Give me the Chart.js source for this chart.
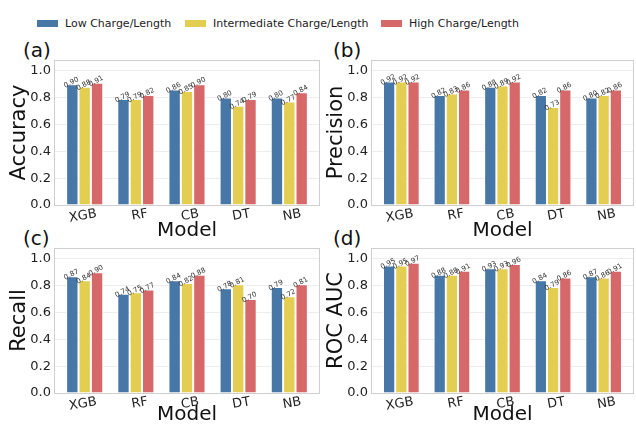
<!DOCTYPE html>
<html>
<head>
<meta charset="utf-8">
<script src="https://cdn.jsdelivr.net/npm/chart.js@4/dist/chart.umd.min.js"></script>
<style>
  body { margin: 0; background: #fff; font-family: 'DejaVu Sans', sans-serif; }
  #page { position: relative; width: 636px; height: 427px; overflow: hidden; }
  canvas { position: absolute; }
  .tag { position: absolute; font-size: 20px; line-height: 20px; color: #111; }
  .sw { position: absolute; width: 21px; height: 7px; top: 20px; }
  .lt { position: absolute; top: 16px; font-size: 11px; line-height: 15px; color: #222; white-space: nowrap; }
</style>
</head>
<body>
<div id="page">
  <div id="legend"></div>
  <div class="tag" style="left:23px;top:40px">(a)</div>
  <div class="tag" style="left:333px;top:40px">(b)</div>
  <div class="tag" style="left:23px;top:228px">(c)</div>
  <div class="tag" style="left:333px;top:228px">(d)</div>
  <canvas id="cA" width="322" height="209" style="left:0;top:34px"></canvas>
  <canvas id="cB" width="319" height="209" style="left:317px;top:34px"></canvas>
  <canvas id="cC" width="322" height="205" style="left:0;top:222px"></canvas>
  <canvas id="cD" width="319" height="205" style="left:317px;top:222px"></canvas>
</div>
<script>
const models = ['XGB', 'RF', 'CB', 'DT', 'NB']
const groups = ['Low Charge/Length', 'Intermediate Charge/Length', 'High Charge/Length']
const colors = ['rgb(70,119,166)', 'rgb(228,206,82)', 'rgb(214,104,106)']

const accuracyLow = [0.90, 0.79, 0.86, 0.80, 0.80]
const accuracyMid = [0.88, 0.79, 0.85, 0.74, 0.77]
const accuracyHigh = [0.91, 0.82, 0.90, 0.79, 0.84]

const precisionLow = [0.92, 0.82, 0.88, 0.82, 0.80]
const precisionMid = [0.92, 0.83, 0.89, 0.73, 0.82]
const precisionHigh = [0.92, 0.86, 0.92, 0.86, 0.86]

const recallLow = [0.87, 0.74, 0.84, 0.78, 0.79]
const recallMid = [0.84, 0.75, 0.82, 0.81, 0.72]
const recallHigh = [0.90, 0.77, 0.88, 0.70, 0.81]

const rocLow = [0.95, 0.88, 0.93, 0.84, 0.87]
const rocMid = [0.95, 0.88, 0.93, 0.79, 0.86]
const rocHigh = [0.97, 0.91, 0.96, 0.86, 0.91]

const yTicks = [0, 0.2, 0.4, 0.6, 0.8, 1.0]

Chart.defaults.font.family = "'DejaVu Sans', sans-serif"

// shared legend, built from the series names and colours
const legendLeft = [[37, 65], [185, 213], [381, 409]]
const legend = document.getElementById('legend')
groups.forEach((g, i) => {
  const sw = document.createElement('div')
  sw.className = 'sw'
  sw.style.left = legendLeft[i][0] + 'px'
  sw.style.background = colors[i]
  legend.appendChild(sw)
  const t = document.createElement('div')
  t.className = 'lt'
  t.style.left = legendLeft[i][1] + 'px'
  t.textContent = g
  legend.appendChild(t)
})

// box around the plot area
const framePlugin = {
  id: 'frame',
  beforeDatasetsDraw(chart) {
    const a = chart.chartArea
    const ctx = chart.ctx
    ctx.save()
    ctx.strokeStyle = '#cfcfcf'
    ctx.lineWidth = 1
    ctx.strokeRect(a.left + 0.5, a.top + 0.5, a.right - a.left - 1, a.bottom - a.top)
    ctx.restore()
  }
}

// small rotated value labels on top of each bar
const valuePlugin = {
  id: 'values',
  afterDatasetsDraw(chart) {
    const ctx = chart.ctx
    ctx.save()
    ctx.font = "7px 'DejaVu Sans'"
    ctx.fillStyle = '#333'
    ctx.textAlign = 'center'
    ctx.textBaseline = 'middle'
    chart.data.datasets.forEach((ds, di) => {
      chart.getDatasetMeta(di).data.forEach((bar, i) => {
        ctx.save()
        ctx.translate(bar.x - 1, bar.y - 1.5)
        ctx.rotate(-28 * Math.PI / 180)
        ctx.fillText(ds.data[i].toFixed(2), 0, 0)
        ctx.restore()
      })
    })
    ctx.restore()
  }
}

function panel(id, yLabel, low, mid, high, xAxisHeight) {
  const series = [low, mid, high]
  return new Chart(document.getElementById(id), {
    type: 'bar',
    data: {
      labels: models.map((m, i) => i),
      datasets: series.map((vals, i) => ({
        label: groups[i],
        data: vals,
        backgroundColor: colors[i],
        borderColor: 'rgba(255,255,255,0.9)',
        borderWidth: 1,
        barPercentage: 1.0,
        categoryPercentage: 0.725
      }))
    },
    options: {
      responsive: false,
      animation: false,
      layout: { padding: { top: 26, right: 2, left: 0, bottom: 0 } },
      plugins: {
        legend: { display: false },
        tooltip: { enabled: false }
      },
      scales: {
        x: {
          type: 'linear',
          offset: false,
          min: -0.6,
          max: 4.6,
          grid: { display: false, drawTicks: false },
          border: { display: false },
          afterBuildTicks: s => { s.ticks = models.map((m, i) => ({ value: i })) },
          afterFit: s => { s.height = xAxisHeight },
          ticks: {
            minRotation: 10,
            maxRotation: 10,
            labelOffset: 12,
            padding: 1,
            color: '#222',
            font: { size: 13 },
            callback: v => models[v]
          },
          title: {
            display: true,
            text: 'Model',
            color: '#111',
            font: { size: 20 },
            padding: { top: 0, bottom: 0 }
          }
        },
        y: {
          min: 0,
          max: 1.08,
          grid: { color: 'rgba(0,0,0,0.07)', drawTicks: false },
          border: { display: false },
          afterBuildTicks: s => { s.ticks = yTicks.map(v => ({ value: v })) },
          afterFit: s => { s.width = 54 },
          ticks: {
            padding: 3,
            color: '#222',
            font: { size: 13 },
            callback: v => v.toFixed(1)
          },
          title: {
            display: true,
            text: yLabel,
            color: '#111',
            font: { size: 21 },
            padding: { top: 7, bottom: 0 }
          }
        }
      }
    },
    plugins: [framePlugin, valuePlugin]
  })
}

panel('cA', 'Accuracy', accuracyLow, accuracyMid, accuracyHigh, 38)
panel('cB', 'Precision', precisionLow, precisionMid, precisionHigh, 38)
panel('cC', 'Recall', recallLow, recallMid, recallHigh, 34)
panel('cD', 'ROC AUC', rocLow, rocMid, rocHigh, 34)
</script>
</body>
</html>
